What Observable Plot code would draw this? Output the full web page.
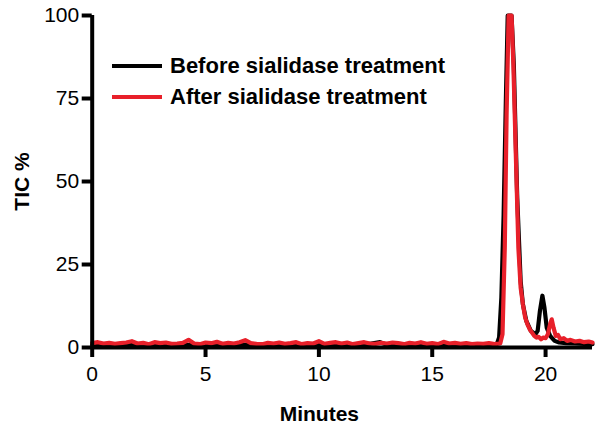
<!DOCTYPE html>
<html>
<head>
<meta charset="utf-8">
<script src="https://cdn.jsdelivr.net/npm/d3@7"></script>
<script src="https://cdn.jsdelivr.net/npm/@observablehq/plot@0.6"></script>
<style>
  body { margin: 0; background: #fff; }
  #wrap { position: relative; width: 601px; height: 430px; font-family: "Liberation Sans", Arial, sans-serif; }
  #legend { position: absolute; left: 112px; top: 50px; }
  .row { display: flex; align-items: center; height: 31px; font-weight: bold; font-size: 22px; color: #000; }
  .sw { width: 50px; height: 4px; margin-right: 8px; }
</style>
</head>
<body>
<div id="wrap"></div>
<script>
// Retention time (minutes) and TIC (%) — before sialidase treatment
const beforeTime = [0, 1, 2, 3, 4, 5, 6, 7, 8, 9, 10, 11, 12, 12.7, 13, 14, 15, 16, 17, 17.6, 17.85, 17.95, 18.05, 18.15, 18.25, 18.33, 18.5, 18.6, 18.75, 18.9, 19.0, 19.15, 19.35, 19.55, 19.65, 19.75, 19.86, 19.95, 20.05, 20.2, 20.4, 20.6, 20.9, 21.3, 21.7, 22.07];
const beforeTIC  = [0.8, 0.9, 0.8, 0.9, 0.8, 0.9, 0.8, 0.9, 0.8, 0.9, 0.8, 0.9, 0.8, 1.6, 0.8, 0.9, 0.8, 0.9, 0.8, 0.9, 1.0, 3, 15, 40, 75, 100, 100, 85, 45, 20, 13, 8, 5, 4, 5, 11, 15.6, 12, 6, 3.5, 2, 1.5, 1.3, 1.2, 1.1, 1.0];

// After sialidase treatment
const afterTime = [0, 0.25, 0.5, 0.75, 1, 1.25, 1.5, 1.75, 2, 2.25, 2.5, 2.75, 3, 3.25, 3.5, 3.75, 4, 4.25, 4.5, 4.75, 5, 5.25, 5.5, 5.75, 6, 6.25, 6.5, 6.75, 7, 7.25, 7.5, 7.75, 8, 8.25, 8.5, 8.75, 9, 9.25, 9.5, 9.75, 10, 10.25, 10.5, 10.75, 11, 11.25, 11.5, 11.75, 12, 12.25, 12.5, 12.75, 13, 13.25, 13.5, 13.75, 14, 14.25, 14.5, 14.75, 15, 15.25, 15.5, 15.75, 16, 16.25, 16.5, 16.75, 17, 17.25, 17.5, 17.75, 18.0, 18.1, 18.2, 18.28, 18.37, 18.5, 18.58, 18.7, 18.8, 18.9, 19.0, 19.1, 19.2, 19.3, 19.4, 19.5, 19.6, 19.7, 19.8, 19.9, 20.0, 20.1, 20.2, 20.27, 20.35, 20.45, 20.55, 20.65, 20.8, 20.95, 21.1, 21.3, 21.5, 21.7, 21.9, 22.07];
const afterTIC  = [1.3, 1.6, 1.2, 1.4, 1.1, 1.3, 1.5, 1.9, 1.2, 1.4, 1.0, 1.6, 1.3, 1.5, 1.1, 1.2, 1.4, 2.3, 1.2, 1.0, 1.5, 1.3, 1.7, 1.1, 1.4, 1.2, 1.6, 2.2, 1.3, 1.1, 1.0, 1.4, 1.2, 1.5, 1.1, 1.3, 1.6, 1.0, 1.3, 1.2, 1.9, 1.1, 1.4, 1.6, 1.2, 1.5, 1.0, 1.3, 1.6, 1.2, 1.1, 1.4, 1.2, 1.5, 1.3, 1.0, 1.4, 1.2, 1.6, 1.1, 1.3, 1.0, 1.7, 1.2, 1.4, 1.1, 1.3, 1.0, 1.2, 1.1, 1.3, 1.0, 1.2, 4, 30, 70, 100, 100, 85, 55, 30, 18, 13, 9, 7, 5.5, 4.5, 3.5, 3, 3.2, 2.5, 3, 2.8, 4, 7, 8.5, 6, 3.5, 3.8, 2.5, 2.8, 2, 2.3, 1.8, 2, 1.6, 1.8, 1.5];

const xTicks = [0, 5, 10, 15, 20];
const yTicks = [0, 25, 50, 75, 100];
const seriesNames = ["Before sialidase treatment", "After sialidase treatment"];
const seriesColors = ["#000000", "#e8202a"];

const before = beforeTime.map((t, i) => ({t, v: beforeTIC[i]}));
const after = afterTime.map((t, i) => ({t, v: afterTIC[i]}));

const font = "Liberation Sans, Arial, sans-serif";

const chart = Plot.plot({
  width: 601,
  height: 430,
  marginLeft: 91.7,
  marginRight: 9,
  marginTop: 15,
  marginBottom: 83,
  style: {fontFamily: font, color: "#000", background: "#fff"},
  x: {domain: [0, 22.07]},
  y: {domain: [0, 100]},
  marks: [
    Plot.line(before, {x: "t", y: "v", stroke: seriesColors[0], strokeWidth: 4.2, strokeLinejoin: "round"}),
    Plot.line(after, {x: "t", y: "v", stroke: seriesColors[1], strokeWidth: 4.2, strokeLinejoin: "round"}),
    Plot.axisY({ticks: yTicks, tickSize: 10, tickPadding: 3, strokeWidth: 4, fontSize: 21, label: null}),
    Plot.axisX({ticks: xTicks, tickSize: 10, tickPadding: 9, strokeWidth: 4, fontSize: 21, label: null}),
    Plot.ruleX([0], {y1: 0, y2: 100, strokeWidth: 4}),
    Plot.ruleY([0], {x1: 0, x2: 22.07, strokeWidth: 4}),
    Plot.text(["TIC %"], {frameAnchor: "left", textAnchor: "middle", lineAnchor: "middle", rotate: -90, dx: -70, fontWeight: "bold", fontSize: 21}),
    Plot.text(["Minutes"], {frameAnchor: "bottom", textAnchor: "middle", lineAnchor: "middle", dx: -23, dy: 67, fontWeight: "bold", fontSize: 21})
  ]
});

const wrap = document.getElementById("wrap");
wrap.appendChild(chart);
const legend = document.createElement("div");
legend.id = "legend";
seriesNames.forEach((name, i) => {
  const row = document.createElement("div");
  row.className = "row";
  const sw = document.createElement("span");
  sw.className = "sw";
  sw.style.background = seriesColors[i];
  const label = document.createElement("span");
  label.textContent = name;
  row.appendChild(sw);
  row.appendChild(label);
  legend.appendChild(row);
});
wrap.appendChild(legend);
</script>
</body>
</html>
